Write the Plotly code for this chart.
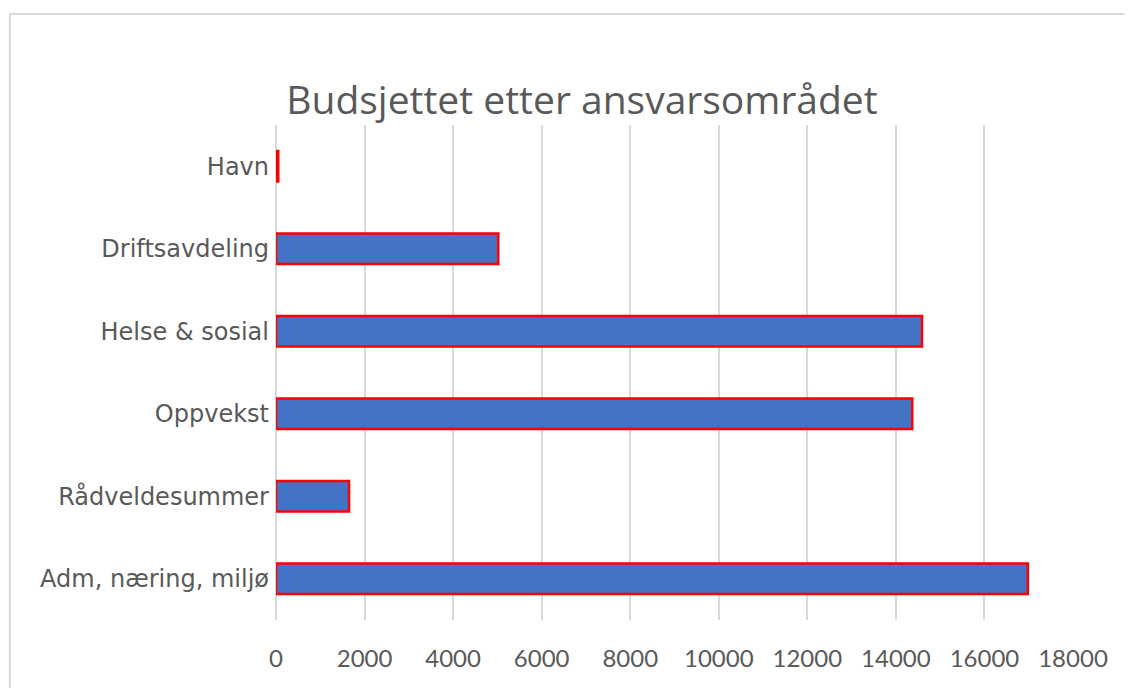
import plotly.graph_objects as go

# categories listed bottom to top, as in the reference
omrader = ["Adm, næring, miljø", "Rådveldesummer", "Oppvekst", "Helse & sosial", "Driftsavdeling", "Havn"]
budsjett = [16980, 1650, 14370, 14590, 5020, 50]
x_ticks = [0, 2000, 4000, 6000, 8000, 10000, 12000, 14000, 16000, 18000]

fig = go.Figure()

fig.add_trace(go.Bar(
    y=omrader,
    x=budsjett,
    orientation="h",
    marker_color="#4472C4",
    marker_line_color="#FF0000",
    marker_line_width=2.5,
))

grey = "#595959"
fig.update_layout(
    width=1133,
    height=688,
    margin=dict(l=268, r=68, t=117, b=76),
    paper_bgcolor="white",
    plot_bgcolor="white",
    showlegend=False,
    bargap=0.63,
    font=dict(family="Lato, Open Sans, sans-serif", color=grey),
    title=dict(
        text="Budsjettet etter ansvarsområdet",
        x=0.5066, xanchor="center",
        y=0.8655, yanchor="middle",
        font=dict(family="Open Sans", size=39, color=grey),
    ),
)

fig.update_xaxes(
    range=[0, 18000],
    tickvals=x_ticks,
    ticktext=[str(v) for v in x_ticks],
    showgrid=True,
    gridcolor="#D9D9D9",
    gridwidth=2,
    zeroline=True,
    zerolinecolor="#D9D9D9",
    zerolinewidth=2,
    showline=False,
    tickfont=dict(size=24, color=grey),
    ticklabelstandoff=22,
)

fig.update_yaxes(
    showgrid=False,
    showline=False,
    tickfont=dict(family="DejaVu Sans", size=24, color=grey),
    ticklabelstandoff=6,
)

# outer chart border (top and left edges visible in the reference)
fig.add_shape(type="line", xref="paper", yref="paper",
              x0=-0.334, x1=1.2, y0=1.224, y1=1.224,
              line=dict(color="#D9D9D9", width=2))
fig.add_shape(type="line", xref="paper", yref="paper",
              x0=-0.334, x1=-0.334, y0=1.224, y1=-0.2,
              line=dict(color="#D9D9D9", width=2))

fig.write_html("out.html")
